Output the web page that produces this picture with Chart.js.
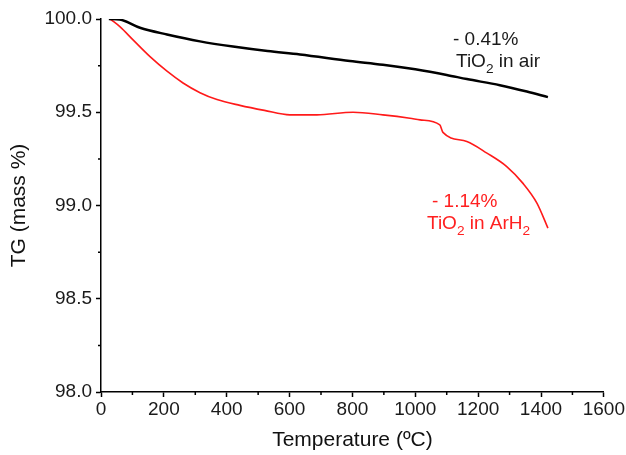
<!DOCTYPE html>
<html>
<head>
<meta charset="utf-8">
<script src="https://cdn.jsdelivr.net/npm/chart.js@4/dist/chart.umd.min.js"></script>
<style>
  html, body { margin: 0; padding: 0; background: #fff; }
  #wrap { width: 626px; height: 455px; }
</style>
</head>
<body>
<div id="wrap"><canvas id="tgChart"></canvas></div>
<script>
// TG curves (temperature in ºC, mass in %)
const airTemp = [25, 60, 124, 210, 315, 420, 530, 633, 792, 897, 1000, 1100, 1164, 1269, 1355, 1422];
const airMass = [100.0, 99.997, 99.953, 99.917, 99.880, 99.852, 99.828, 99.810, 99.775, 99.755, 99.730, 99.700, 99.678, 99.645, 99.611, 99.581];

const arTemp = [29, 60, 102, 156, 210, 261, 315, 369, 442, 520, 601, 687, 802, 897, 983, 1015, 1078, 1088, 1164, 1228, 1291, 1342, 1387, 1422];
const arMass = [100.0, 99.959, 99.888, 99.798, 99.720, 99.657, 99.605, 99.568, 99.537, 99.510, 99.486, 99.486, 99.500, 99.486, 99.468, 99.459, 99.432, 99.392, 99.343, 99.281, 99.209, 99.12, 99.013, 98.879];

const xTicks = [0, 200, 400, 600, 800, 1000, 1200, 1400, 1600];
const yTicks = [98.0, 98.5, 99.0, 99.5, 100.0];
const xMinor = [100, 300, 500, 700, 900, 1100, 1300, 1500];
const yMinor = [98.25, 98.75, 99.25, 99.75];

const airNote = ["- 0.41%", "TiO", "2", " in air"];
const arNote = ["- 1.14%", "TiO", "2", " in ArH", "2"];

const FONT = "'Liberation Sans', Arial, sans-serif";

function toPoints(xs, ys) {
  return xs.map((x, i) => ({ x: x, y: ys[i] }));
}

// draws text where every second piece is a subscript
function drawSubText(ctx, x, y, pieces, size) {
  let cx = x;
  pieces.forEach((p, i) => {
    const sub = i % 2 === 1;
    ctx.font = (sub ? size * 0.72 : size) + "px " + FONT;
    ctx.fillText(p, cx, sub ? y + size * 0.33 : y);
    cx += ctx.measureText(p).width;
  });
}

const extras = {
  id: "extras",
  afterDraw(chart) {
    const ctx = chart.ctx;
    const xs = chart.scales.x;
    const ys = chart.scales.y;
    ctx.save();
    ctx.strokeStyle = "#000";
    ctx.lineWidth = 1.5;
    ctx.beginPath();
    xMinor.forEach((v) => {
      const px = xs.getPixelForValue(v);
      ctx.moveTo(px, ys.bottom);
      ctx.lineTo(px, ys.bottom + 3);
    });
    yMinor.forEach((v) => {
      const py = ys.getPixelForValue(v);
      ctx.moveTo(xs.left, py);
      ctx.lineTo(xs.left - 3, py);
    });
    ctx.stroke();

    ctx.textBaseline = "alphabetic";
    ctx.textAlign = "left";
    ctx.fillStyle = "#1a1a1a";
    ctx.font = "19px " + FONT;
    ctx.fillText(airNote[0], 453, 45);
    drawSubText(ctx, 456, 67, airNote.slice(1), 19);

    ctx.fillStyle = "#ff2020";
    ctx.font = "19px " + FONT;
    ctx.fillText(arNote[0], 432, 207);
    drawSubText(ctx, 427, 229, arNote.slice(1), 19);
    ctx.restore();
  },
};

new Chart(document.getElementById("tgChart"), {
  type: "scatter",
  data: {
    datasets: [
      {
        label: "TiO2 in air",
        data: toPoints(airTemp, airMass),
        showLine: true,
        borderColor: "#000",
        borderWidth: 2.5,
        pointRadius: 0,
        cubicInterpolationMode: "monotone",
      },
      {
        label: "TiO2 in ArH2",
        data: toPoints(arTemp, arMass),
        showLine: true,
        borderColor: "#ff1a1a",
        borderWidth: 1.6,
        pointRadius: 0,
        cubicInterpolationMode: "monotone",
      },
    ],
  },
  options: {
    responsive: true,
    maintainAspectRatio: false,
    animation: false,
    layout: { padding: { left: 0, right: 20, top: 19, bottom: 0 } },
    plugins: {
      legend: { display: false },
      tooltip: { enabled: false },
    },
    scales: {
      x: {
        type: "linear",
        min: 0,
        max: 1600,
        afterBuildTicks: (s) => { s.ticks = xTicks.map((v) => ({ value: v })); },
        afterFit: (s) => { s.height = 63; },
        grid: { display: true, drawOnChartArea: false, drawTicks: true, tickLength: 5, tickColor: "#000", tickWidth: 1.5 },
        border: { display: true, color: "#000", width: 1.5 },
        ticks: { color: "#1a1a1a", font: { family: FONT, size: 19 }, padding: 1, maxRotation: 0, callback: (v) => String(v) },
        title: { display: true, text: "Temperature (ºC)", color: "#111", font: { family: FONT, size: 21 }, padding: { top: 0, bottom: 2 } },
      },
      y: {
        type: "linear",
        min: 98,
        max: 100,
        afterBuildTicks: (s) => { s.ticks = yTicks.map((v) => ({ value: v })); },
        afterFit: (s) => { s.width = 101; },
        grid: { display: true, drawOnChartArea: false, drawTicks: true, tickLength: 5, tickColor: "#000", tickWidth: 1.5 },
        border: { display: true, color: "#000", width: 1.5 },
        ticks: { color: "#1a1a1a", font: { family: FONT, size: 19 }, padding: 4, callback: (v) => v.toFixed(1) },
        title: { display: true, text: "TG (mass %)", color: "#111", font: { family: FONT, size: 21 }, padding: { top: 7, bottom: 0 } },
      },
    },
  },
  plugins: [extras],
});
</script>
</body>
</html>
